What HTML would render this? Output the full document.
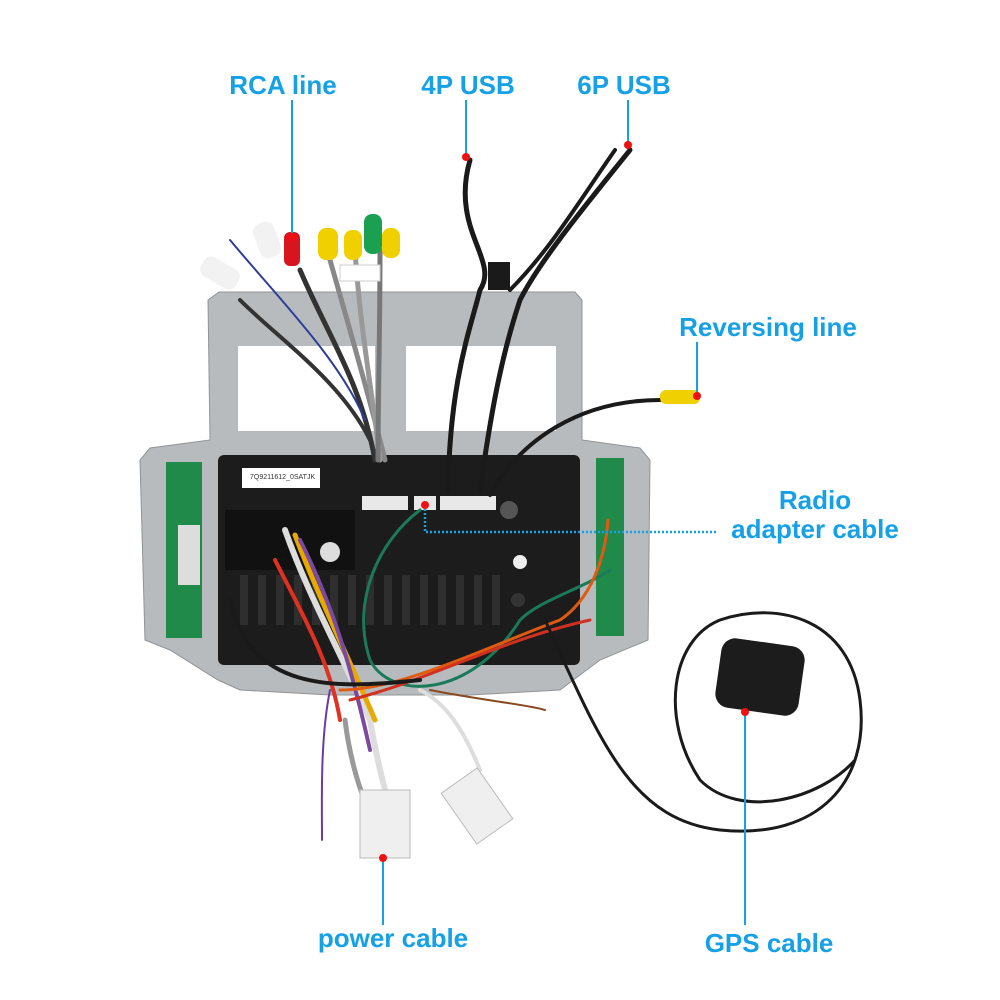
<!DOCTYPE html>
<html><head><meta charset="utf-8"><style>
html,body{margin:0;padding:0;background:#fff;width:1000px;height:1000px;overflow:hidden}
svg{display:block}
.l{font-family:"Liberation Sans","DejaVu Sans",sans-serif;font-weight:bold;fill:#16a0e6;font-size:26px}
</style></head><body>
<svg width="1000" height="1000" viewBox="0 0 1000 1000" xmlns="http://www.w3.org/2000/svg">
<!-- frame -->
<path d="M219 292 L575 292 L582 300 L582 440 L640 448 L650 460 L648 640 L600 660 L560 690 L470 695 L330 695 L240 690 L218 680 L170 650 L145 640 L140 460 L150 448 L210 440 L208 300 Z" fill="#b7bbbe" stroke="#8f9497"/>
<rect x="238" y="346" width="137" height="85" fill="#fff"/>
<rect x="406" y="346" width="150" height="85" fill="#fff"/>
<!-- black unit -->
<rect x="218" y="455" width="362" height="210" rx="6" fill="#1c1c1c"/>
<rect x="225" y="510" width="130" height="60" fill="#111"/>
<g fill="#2e2e2e">
<rect x="240" y="575" width="8" height="50"/><rect x="258" y="575" width="8" height="50"/><rect x="276" y="575" width="8" height="50"/><rect x="294" y="575" width="8" height="50"/><rect x="312" y="575" width="8" height="50"/><rect x="330" y="575" width="8" height="50"/><rect x="348" y="575" width="8" height="50"/><rect x="366" y="575" width="8" height="50"/><rect x="384" y="575" width="8" height="50"/><rect x="402" y="575" width="8" height="50"/><rect x="420" y="575" width="8" height="50"/><rect x="438" y="575" width="8" height="50"/><rect x="456" y="575" width="8" height="50"/><rect x="474" y="575" width="8" height="50"/><rect x="492" y="575" width="8" height="50"/>
</g>
<rect x="242" y="468" width="78" height="20" fill="#fff"/>
<text x="250" y="479" font-family="Liberation Sans" font-size="7" fill="#333">7Q9211612_0SATJK</text>
<rect x="362" y="496" width="46" height="14" fill="#e8e8e8"/>
<rect x="414" y="496" width="22" height="14" fill="#e8e8e8"/>
<rect x="440" y="496" width="56" height="14" fill="#e8e8e8"/>
<circle cx="330" cy="552" r="10" fill="#ddd"/>
<circle cx="509" cy="510" r="9" fill="#555"/>
<circle cx="520" cy="562" r="7" fill="#eee"/>
<circle cx="518" cy="600" r="7" fill="#333"/>
<!-- PCBs -->
<rect x="166" y="462" width="36" height="176" fill="#1f8a4a"/>
<rect x="178" y="525" width="22" height="60" fill="#ddd"/>
<rect x="596" y="458" width="28" height="178" fill="#1f8a4a"/>
<!-- wires top -->
<g fill="none" stroke-linecap="round">
<path d="M300 270 C330 340 360 380 375 460" stroke="#333" stroke-width="5"/>
<path d="M330 260 C350 330 370 400 385 460" stroke="#888" stroke-width="5"/>
<path d="M355 250 C360 330 375 410 380 460" stroke="#999" stroke-width="5"/>
<path d="M380 250 C380 330 378 400 378 460" stroke="#777" stroke-width="5"/>
<path d="M240 300 C280 340 340 380 370 440" stroke="#333" stroke-width="4"/>
<path d="M230 240 C280 300 340 360 365 420" stroke="#2b3d9b" stroke-width="2"/>
<path d="M470 160 C450 230 500 260 480 290 C470 330 450 380 448 490" stroke="#1a1a1a" stroke-width="5"/>
<path d="M630 150 C590 200 540 260 520 300 C500 360 490 420 480 490" stroke="#1a1a1a" stroke-width="5"/>
<path d="M615 150 C580 200 550 250 510 290" stroke="#1a1a1a" stroke-width="4"/>
<path d="M660 400 C580 400 520 440 490 495" stroke="#1a1a1a" stroke-width="4"/>
<!-- harness -->
<path d="M285 530 C310 600 340 650 370 720 C375 750 380 770 385 790" stroke="#ddd" stroke-width="6"/>
<path d="M295 535 C320 600 345 650 375 720" stroke="#e8a800" stroke-width="5"/>
<path d="M300 540 C330 600 350 660 370 750" stroke="#7a4aa0" stroke-width="4"/>
<path d="M275 560 C300 610 330 660 340 720" stroke="#e03020" stroke-width="4"/>
<path d="M330 690 C320 740 322 800 322 840" stroke="#6a3aa8" stroke-width="2"/>
<path d="M345 720 C350 760 360 790 365 800" stroke="#999" stroke-width="5"/>
<path d="M420 510 C380 540 350 600 370 660 C390 700 470 700 520 620 C540 600 580 590 610 570" stroke="#1a7a5a" stroke-width="3"/>
<path d="M340 690 C400 690 480 650 560 620 C590 600 605 560 608 520" stroke="#e05a10" stroke-width="3"/>
<path d="M350 700 C430 680 500 640 590 620" stroke="#d03020" stroke-width="3"/>
<path d="M430 690 C480 700 530 705 545 710" stroke="#8a4a20" stroke-width="2"/>
<path d="M230 600 C250 690 330 690 420 680" stroke="#1a1a1a" stroke-width="4"/>
<path d="M545 620 C600 740 630 820 720 830 C820 840 870 780 860 700 C850 620 780 600 720 620 C670 640 660 720 700 780 C740 820 820 800 855 760" stroke="#1a1a1a" stroke-width="3"/>
<path d="M480 770 C460 720 440 700 420 690" stroke="#ddd" stroke-width="4"/>
</g>
<!-- RCA plugs -->
<g>
<rect x="200" y="262" width="40" height="22" rx="8" fill="#f2f2f2" transform="rotate(30 220 273)"/>
<rect x="256" y="222" width="22" height="36" rx="8" fill="#f2f2f2" transform="rotate(-20 267 240)"/>
<rect x="284" y="232" width="16" height="34" rx="6" fill="#d8141e"/>
<rect x="318" y="228" width="20" height="32" rx="8" fill="#f0d000"/>
<rect x="344" y="230" width="18" height="30" rx="8" fill="#f0d000"/>
<rect x="364" y="214" width="18" height="40" rx="8" fill="#1aa050"/>
<rect x="382" y="228" width="18" height="30" rx="8" fill="#f0d000"/>
<rect x="340" y="265" width="40" height="16" fill="#fff" stroke="#ccc"/>
</g>
<rect x="488" y="262" width="22" height="28" fill="#1a1a1a"/>
<rect x="660" y="390" width="40" height="14" rx="6" fill="#f0d000"/>
<rect x="718" y="642" width="84" height="70" rx="14" fill="#1c1c1c" transform="rotate(8 760 677)"/>
<!-- connectors bottom -->
<rect x="360" y="790" width="50" height="68" fill="#efefef" stroke="#bbb"/>
<rect x="455" y="775" width="44" height="62" fill="#efefef" stroke="#bbb" transform="rotate(-35 477 806)"/>
<!-- labels & leaders -->
<g stroke="#16a0e6" stroke-width="2" fill="none">
<line x1="292" y1="100" x2="292" y2="236"/>
<line x1="466" y1="100" x2="466" y2="157"/>
<line x1="628" y1="100" x2="628" y2="145"/>
<line x1="697" y1="342" x2="697" y2="396"/>
<line x1="383" y1="925" x2="383" y2="858"/>
<line x1="745" y1="925" x2="745" y2="712"/>
<polyline points="425,505 425,532 716,532" stroke-dasharray="2 2" stroke-width="2.5"/>
</g>
<g fill="#f01010">
<circle cx="292" cy="237" r="4"/><circle cx="466" cy="157" r="4"/><circle cx="628" cy="145" r="4"/>
<circle cx="697" cy="396" r="4"/><circle cx="425" cy="505" r="4"/><circle cx="383" cy="858" r="4"/><circle cx="745" cy="712" r="4"/>
</g>
<text class="l" x="283" y="94" text-anchor="middle">RCA line</text>
<text class="l" x="468" y="94" text-anchor="middle">4P USB</text>
<text class="l" x="624" y="94" text-anchor="middle">6P USB</text>
<text class="l" x="768" y="336" text-anchor="middle">Reversing line</text>
<text class="l" x="815" y="509" text-anchor="middle">Radio</text>
<text class="l" x="815" y="538" text-anchor="middle">adapter cable</text>
<text class="l" x="393" y="947" text-anchor="middle">power cable</text>
<text class="l" x="769" y="952" text-anchor="middle">GPS cable</text>
</svg>
</body></html>
